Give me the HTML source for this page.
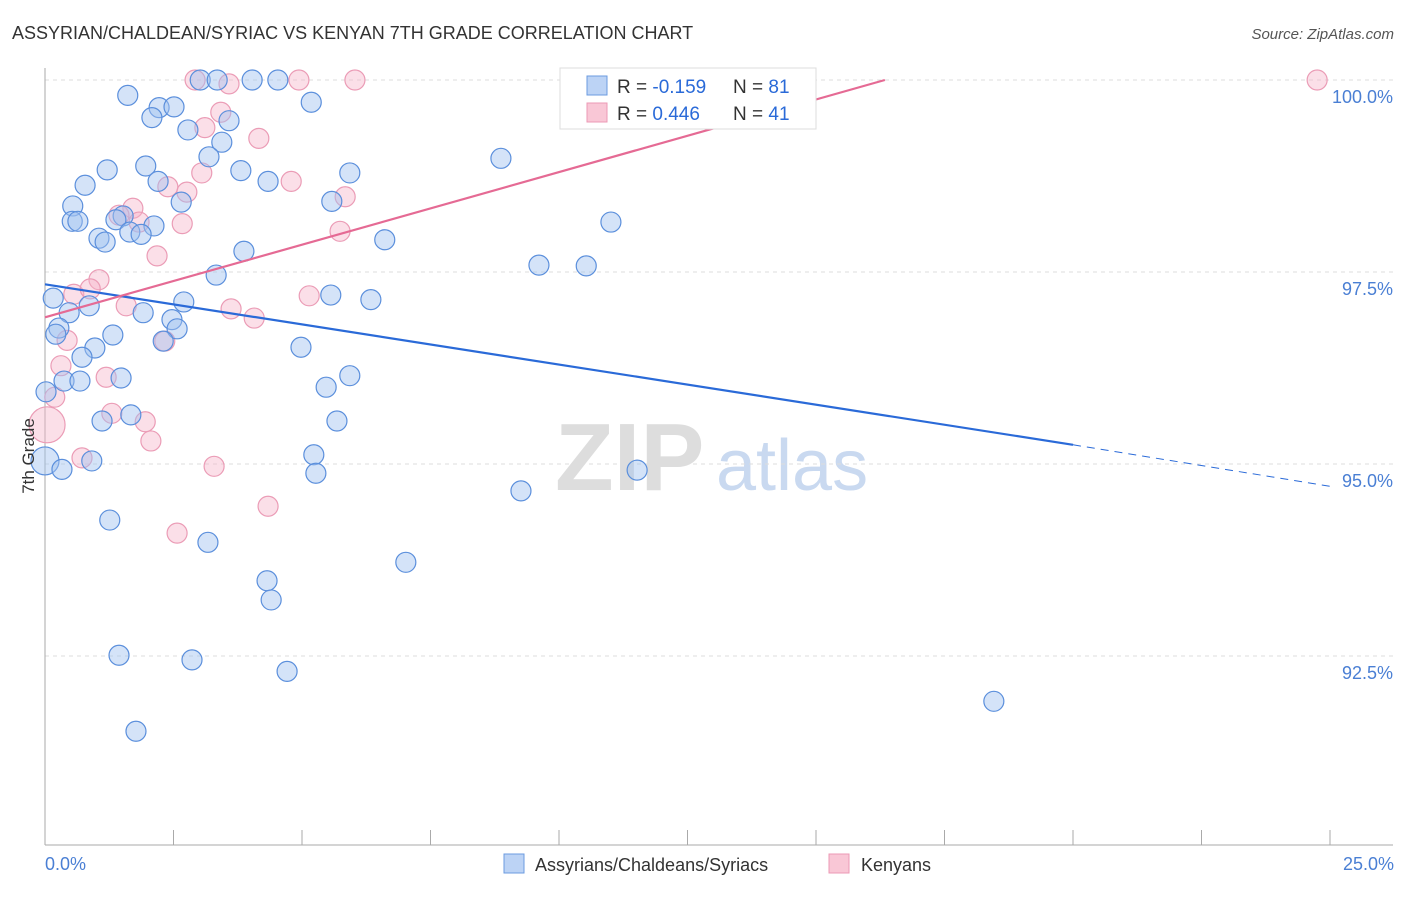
<!DOCTYPE html>
<html><head><meta charset="utf-8"><style>
body{margin:0;background:#fff;font-family:"Liberation Sans",sans-serif}
svg text{font-family:"Liberation Sans",sans-serif}
</style></head><body>
<svg id="chart" width="1406" height="892" viewBox="0 0 1406 892" xmlns="http://www.w3.org/2000/svg">
<text x="12" y="39" font-size="18" fill="#333">ASSYRIAN/CHALDEAN/SYRIAC VS KENYAN 7TH GRADE CORRELATION CHART</text>
<text x="1394" y="39" font-size="15" fill="#555" text-anchor="end" font-style="italic">Source: ZipAtlas.com</text>
<text x="555" y="490" font-size="96" fill="#ddd" font-family="Liberation Serif" font-weight="bold">ZIP</text>
<text x="716" y="490" font-size="72" fill="#c9d9f0">atlas</text>
<g id="grid"></g>
<g id="axes"></g>
<g id="pinkPts"></g>
<g id="bluePts"></g>
<g id="trends"></g>
<text transform="translate(34,456) rotate(-90)" font-size="17" fill="#333" text-anchor="middle">7th Grade</text>
<text x="45" y="870" font-size="18" fill="#4a7fd4">0.0%</text>
<text x="1394" y="870" font-size="18" fill="#4a7fd4" text-anchor="end">25.0%</text>
<g>
<rect x="560" y="68" width="256" height="61" fill="#fff" stroke="#ddd"/>
<rect x="587" y="76" width="20" height="19" fill="#bcd3f5" stroke="#6b9be0"/>
<rect x="587" y="103" width="20" height="19" fill="#f9c7d6" stroke="#ec9ab5"/>
<text x="617" y="93" font-size="19" fill="#333">R = <tspan fill="#2a6ad8">-0.159</tspan></text>
<text x="733" y="93" font-size="19" fill="#333">N = <tspan fill="#2a6ad8">81</tspan></text>
<text x="617" y="120" font-size="19" fill="#333">R = <tspan fill="#2a6ad8"> 0.446</tspan></text>
<text x="733" y="120" font-size="19" fill="#333">N = <tspan fill="#2a6ad8">41</tspan></text>
</g>
<g>
<rect x="504" y="854" width="20" height="19" fill="#bcd3f5" stroke="#6b9be0"/>
<text x="535" y="871" font-size="18" fill="#333">Assyrians/Chaldeans/Syriacs</text>
<rect x="829" y="854" width="20" height="19" fill="#f9c7d6" stroke="#ec9ab5"/>
<text x="861" y="871" font-size="18" fill="#333">Kenyans</text>
</g>
</svg>
<script>
const yTicks=[100,97.5,95,92.5];
const yTickLabels=["100.0%","97.5%","95.0%","92.5%"];
const xTicks=[0,2.5,5,7.5,10,12.5,15,17.5,20,22.5,25];
const blueX=[1.61,3.02,3.35,4.03,4.53,5.18,2.22,2.51,2.08,2.78,3.58,3.44,3.19,8.87,1.21,1.96,3.81,4.34,5.93,0.78,2.20,2.65,5.58,0.54,0.53,0.64,1.52,1.38,2.12,1.65,1.87,1.05,1.17,6.61,3.87,11.01,9.61,10.53,3.33,0.16,0.86,2.70,5.56,6.34,0.47,1.91,0.27,2.47,0.21,1.32,2.57,2.30,0.97,4.98,0.72,0.02,0.37,0.68,1.48,5.93,5.47,1.11,1.67,5.68,0.0,0.33,0.91,5.23,5.27,11.52,9.26,1.26,3.17,7.02,4.32,4.40,1.44,2.86,4.71,18.46,1.77];
const blueY=[99.80,100,100,100,100,99.71,99.64,99.65,99.51,99.35,99.47,99.19,99.0,98.98,98.83,98.88,98.82,98.68,98.79,98.63,98.68,98.41,98.42,98.36,98.16,98.16,98.23,98.18,98.10,98.02,97.99,97.94,97.89,97.92,97.77,98.15,97.59,97.58,97.46,97.16,97.06,97.11,97.20,97.14,96.97,96.97,96.77,96.88,96.69,96.68,96.76,96.60,96.51,96.52,96.39,95.94,96.08,96.08,96.12,96.15,96.00,95.56,95.64,95.56,95.04,94.93,95.04,95.12,94.88,94.92,94.65,94.27,93.98,93.72,93.48,93.23,92.51,92.45,92.30,91.91,91.52];
const pinkX=[2.92,3.58,4.94,6.03,10.35,24.75,3.42,3.11,4.16,3.05,4.79,2.39,2.76,5.84,1.71,1.44,1.83,2.67,5.74,2.18,1.05,0.56,0.88,5.14,3.62,1.58,4.07,0.43,2.33,0.31,1.19,0.19,0.04,1.30,1.95,2.06,0.72,3.29,4.34,2.57];
const pinkY=[100,99.95,100,100,100,100,99.58,99.38,99.24,98.79,98.68,98.61,98.54,98.48,98.33,98.24,98.15,98.13,98.03,97.71,97.40,97.21,97.28,97.19,97.02,97.06,96.90,96.61,96.60,96.28,96.13,95.87,95.51,95.66,95.55,95.30,95.08,94.97,94.45,94.10];
const blueTrend=[97.34,95.25,94.71]; // at x=0, 20, 25
const pinkTrend=[96.91,100.0]; // at x=0, 16.34
const NS="http://www.w3.org/2000/svg";
function sx(v){return 45+v*51.4;}
function sy(v){return 80+(100-v)*76.8;}
function mk(tag,attrs,parent){const e=document.createElementNS(NS,tag);for(const k in attrs)e.setAttribute(k,attrs[k]);parent.appendChild(e);return e;}
const grid=document.getElementById('grid'),axes=document.getElementById('axes');
yTicks.forEach((t,i)=>{
 const l=mk('line',{x1:45,x2:1393,y1:sy(t),y2:sy(t),stroke:'#ddd','stroke-dasharray':'4,4'},grid);
 
 
 const tx=mk('text',{x:1393,y:sy(t)+23,'font-size':18,fill:'#4a7fd4','text-anchor':'end'},grid);
 tx.textContent=yTickLabels[i];
 
 
});
const xa=mk('line',{x1:45,x2:1393,y1:845,y2:845,stroke:'#aaa'},axes);


const ya=mk('line',{x1:45,x2:45,y1:68,y2:845,stroke:'#aaa'},axes);


xTicks.forEach(t=>{
 const l=mk('line',{x1:sx(t),x2:sx(t),y1:830,y2:845,stroke:'#aaa'},axes);
 
 
});
const pg=document.getElementById('pinkPts');
pinkX.forEach((x,i)=>{
 const c=mk('circle',{cx:sx(x),cy:sy(pinkY[i]),r:(i==32?18:10),fill:'rgba(246,178,200,0.42)',stroke:'#eb9cb6','stroke-width':1.2},pg);
 
 
});
const bg=document.getElementById('bluePts');
blueX.forEach((x,i)=>{
 const c=mk('circle',{cx:sx(x),cy:sy(blueY[i]),r:(i==64?14:10),fill:'rgba(160,194,240,0.45)',stroke:'#5b8fdc','stroke-width':1.2},bg);
 
 
});
const tg=document.getElementById('trends');
const b1=mk('line',{x1:sx(0),y1:sy(blueTrend[0]),x2:sx(20),y2:sy(blueTrend[1]),stroke:'#2a6ad8','stroke-width':2.2},tg);


const b2=mk('line',{x1:sx(20),y1:sy(blueTrend[1]),x2:sx(25),y2:sy(blueTrend[2]),stroke:'#2a6ad8','stroke-width':1,'stroke-dasharray':'8,6'},tg);


const p1=mk('line',{x1:sx(0),y1:sy(pinkTrend[0]),x2:sx(16.34),y2:sy(pinkTrend[1]),stroke:'#e56a94','stroke-width':2.2},tg);


</script>
</body></html>
